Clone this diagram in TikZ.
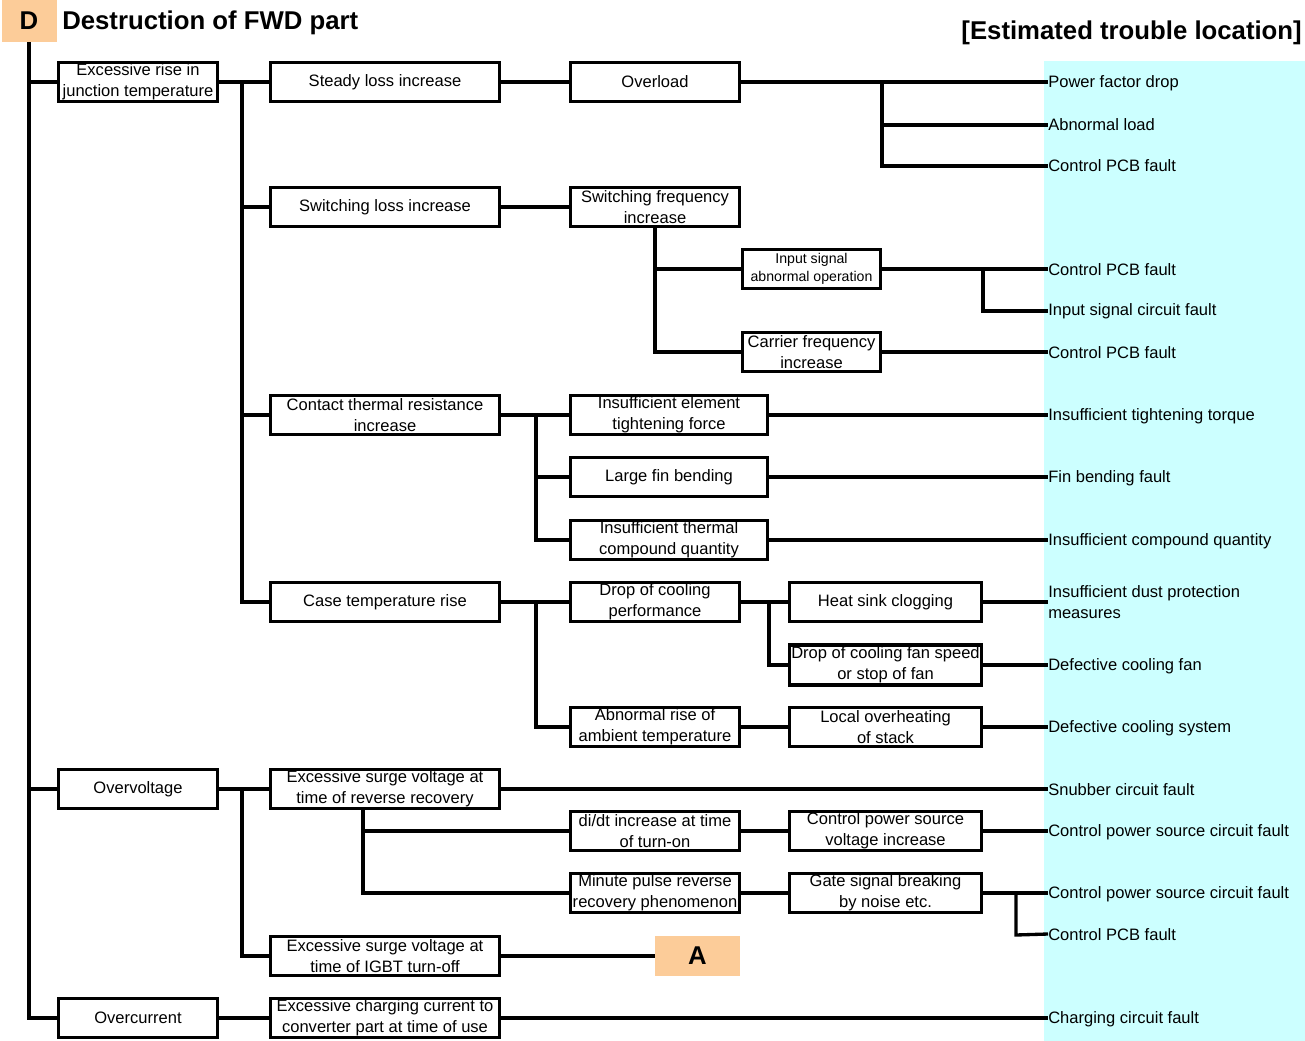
\documentclass[tikz,border=0pt]{standalone}
\usepackage{fontspec}
\setmainfont{Liberation Sans}
\definecolor{cyanbg}{RGB}{204,255,255}
\definecolor{orng}{RGB}{252,204,153}
\begin{document}
\begin{tikzpicture}[x=0.75pt,y=-0.75pt,
  box/.style={draw, line width=2.5pt, fill=white, inner sep=0pt, align=center,
    font=\fontsize{12.4}{15.5}\selectfont},
  smallbox/.style={box, font=\fontsize{10.6}{14}\selectfont},
  sz/.style 2 args={minimum width=(#1-3)*0.75pt, minimum height=(#2-3)*0.75pt},
  tag/.style={fill=orng, inner sep=0pt, font=\bfseries\fontsize{19.3}{23}\selectfont},
  lbl/.style={anchor=west, inner sep=0pt, align=left, font=\fontsize{12.4}{15.5}\selectfont},
  conn/.style={line width=2.5pt}
]
\useasboundingbox (0,0) rectangle (1305,1041);
\fill[cyanbg] (1044,61) rectangle (1305,1041);

% headers
\node[tag, minimum width=55*0.75pt, minimum height=42*0.75pt] (D) at (29,21) {D};
\node[anchor=west, inner sep=0pt, font=\bfseries\fontsize{19.3}{23}\selectfont] (title) at (62,23) {Destruction of FWD part};
\node[anchor=east, inner sep=0pt, font=\bfseries\fontsize{19.3}{23}\selectfont] (est) at (1302,33) {[Estimated trouble location]};

% level 1
\node[box,sz={162}{42}] (n1) at (138,82) {Excessive rise in\\junction temperature};
\node[box,sz={162}{42}] (n2) at (138,789) {Overvoltage};
\node[box,sz={162}{42}] (n3) at (138,1018) {Overcurrent};

% level 2
\node[box,sz={232}{42}] (s1) at (385,82) {Steady loss increase};
\node[box,sz={232}{42}] (s2) at (385,207) {Switching loss increase};
\node[box,sz={232}{42}] (s3) at (385,415) {Contact thermal resistance\\increase};
\node[box,sz={232}{42}] (s4) at (385,602) {Case temperature rise};
\node[box,sz={232}{42}] (s5) at (385,789) {Excessive surge voltage at\\time of reverse recovery};
\node[box,sz={232}{42}] (s6) at (385,956) {Excessive surge voltage at\\time of IGBT turn-off};
\node[box,sz={232}{42}] (s7) at (385,1018) {Excessive charging current to\\converter part at time of use};

% level 3
\node[box,sz={172}{42}] (t1) at (655,82) {Overload};
\node[box,sz={172}{42}] (t2) at (655,207) {Switching frequency\\increase};
\node[box,sz={200}{42}] (t3) at (669,415) {Insufficient element\\tightening force};
\node[box,sz={200}{42}] (t4) at (669,477) {Large fin bending};
\node[box,sz={200}{42}] (t5) at (669,540) {Insufficient thermal\\compound quantity};
\node[box,sz={172}{42}] (t6) at (655,602) {Drop of cooling\\performance};
\node[box,sz={172}{42}] (t7) at (655,727) {Abnormal rise of\\ambient temperature};
\node[box,sz={172}{42}] (t8) at (655,831) {di/dt increase at time\\of turn-on};
\node[box,sz={172}{42}] (t9) at (655,893) {Minute pulse reverse\\recovery phenomenon};
\node[tag, minimum width=85*0.75pt, minimum height=40*0.75pt] (A) at (697.5,956) {A};

% level 4
\node[smallbox,sz={141}{42}] (u1) at (811.5,269) {Input signal\\abnormal operation};
\node[box,sz={141}{42}] (u2) at (811.5,352) {Carrier frequency\\increase};
\node[box,sz={195}{42}] (u3) at (885.5,602) {Heat sink clogging};
\node[box,sz={195}{43}] (u4) at (885.5,665) {Drop of cooling fan speed\\or stop of fan};
\node[box,sz={195}{42}] (u5) at (885.5,727) {Local overheating\\of stack};
\node[box,sz={195}{42}] (u6) at (885.5,831) {Control power source\\voltage increase};
\node[box,sz={195}{42}] (u7) at (885.5,893) {Gate signal breaking\\by noise etc.};

% estimated trouble locations
\node[lbl] (r1) at (1048,83) {Power factor drop};
\node[lbl] (r2) at (1048,125) {Abnormal load};
\node[lbl] (r3) at (1048,166) {Control PCB fault};
\node[lbl] (r4) at (1048,270) {Control PCB fault};
\node[lbl] (r5) at (1048,311) {Input signal circuit fault};
\node[lbl] (r6) at (1048,353) {Control PCB fault};
\node[lbl] (r7) at (1048,416) {Insufficient tightening torque};
\node[lbl] (r8) at (1048,478) {Fin bending fault};
\node[lbl] (r9) at (1048,541) {Insufficient compound quantity};
\node[lbl] (r10) at (1048,602) {Insufficient dust protection\\measures};
\node[lbl] (r11) at (1048,666) {Defective cooling fan};
\node[lbl] (r12) at (1048,728) {Defective cooling system};
\node[lbl] (r13) at (1048,790) {Snubber circuit fault};
\node[lbl] (r14) at (1048,832) {Control power source circuit fault};
\node[lbl] (r15) at (1048,894) {Control power source circuit fault};
\node[lbl] (r16) at (1048,935) {Control PCB fault};
\node[lbl] (r17) at (1048,1019) {Charging circuit fault};

% junction points
\coordinate (b1) at (242,82);
\coordinate (b2) at (882,82);
\coordinate (b3) at (983,269);
\coordinate (b4) at (536,415);
\coordinate (b5) at (536,602);
\coordinate (b6) at (769,602);
\coordinate (b7) at (242,789);
\coordinate (b8) at (363,810);
\coordinate (b9) at (1016,893);

% connectors
\draw[conn] (D.south) |- (n1.west);
\draw[conn] (D.south) |- (n2.west);
\draw[conn] (D.south) |- (n3.west);
\draw[conn] (n1.east) -- (s1.west);
\draw[conn] (b1) |- (s2.west);
\draw[conn] (b1) |- (s3.west);
\draw[conn] (b1) |- (s4.west);
\draw[conn] (s1.east) -- (t1.west);
\draw[conn] (t1.east) -- (t1.east -| r1.west);
\draw[conn] (b2) |- (r2.west);
\draw[conn] (b2) |- (r3.west);
\draw[conn] (s2.east) -- (t2.west);
\draw[conn] (t2.south) |- (u1.west);
\draw[conn] (t2.south) |- (u2.west);
\draw[conn] (u1.east) -- (u1.east -| r4.west);
\draw[conn] (b3) |- (r5.west);
\draw[conn] (u2.east) -- (u2.east -| r6.west);
\draw[conn] (s3.east) -- (t3.west);
\draw[conn] (b4) |- (t4.west);
\draw[conn] (b4) |- (t5.west);
\draw[conn] (t3.east) -- (t3.east -| r7.west);
\draw[conn] (t4.east) -- (t4.east -| r8.west);
\draw[conn] (t5.east) -- (t5.east -| r9.west);
\draw[conn] (s4.east) -- (t6.west);
\draw[conn] (b5) |- (t7.west);
\draw[conn] (t6.east) -- (u3.west);
\draw[conn] (b6) |- (u4.west);
\draw[conn] (u3.east) -- (r10.west);
\draw[conn] (u4.east) -- (u4.east -| r11.west);
\draw[conn] (t7.east) -- (u5.west);
\draw[conn] (u5.east) -- (u5.east -| r12.west);
\draw[conn] (n2.east) -- (s5.west);
\draw[conn] (b7) |- (s6.west);
\draw[conn] (s5.east) -- (s5.east -| r13.west);
\draw[conn] (b8) |- (t8.west);
\draw[conn] (b8) |- (t9.west);
\draw[conn] (t8.east) -- (u6.west);
\draw[conn] (u6.east) -- (u6.east -| r14.west);
\draw[conn] (t9.east) -- (u7.west);
\draw[conn] (u7.east) -- (u7.east -| r15.west);
\draw[conn] (b9) |- (b9 |- r16.west) -- (r16.west |- 0,934);
\draw[conn] (s6.east) -- (A.west);
\draw[conn] (n3.east) -- (s7.west);
\draw[conn] (s7.east) -- (s7.east -| r17.west);
\end{tikzpicture}
\end{document}
